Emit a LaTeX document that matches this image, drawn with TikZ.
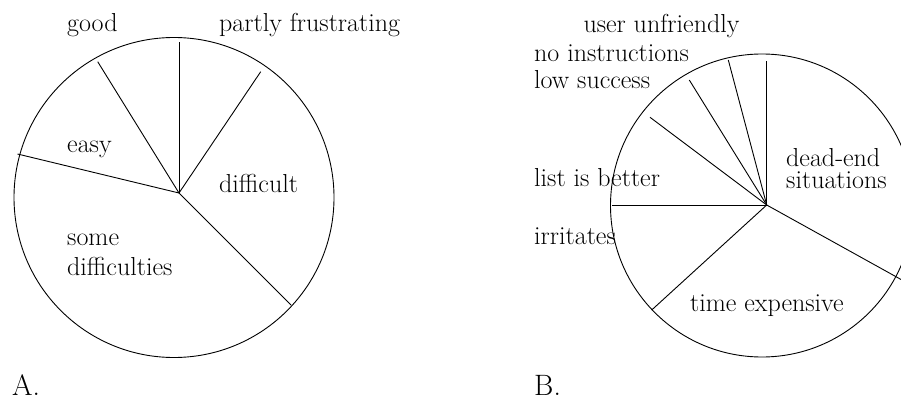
\documentclass[tikz,border=0pt]{standalone}
\begin{document}
\begin{tikzpicture}[x=1pt,y=-1pt,
  lbl/.style={anchor=base west,inner sep=0pt,font=\fontsize{26}{30}\selectfont},
  big/.style={anchor=base west,inner sep=0pt,font=\fontsize{29.5}{34}\selectfont},
  rim/.style={line width=0.9pt},
  spoke/.style={line width=0.9pt}]
\useasboundingbox (0,0) rectangle (901,398);
\clip (0,0) rectangle (901,398);

% ---- chart A ----
\draw[rim] (174,197.5) circle[radius=160];
\coordinate (ca) at (179,193);
\coordinate (a1) at (179,42);
\coordinate (a2) at (97.7,61.7);
\coordinate (a3) at (17.5,154);
\coordinate (a4) at (260.7,71.7);
\coordinate (a5) at (291,305);
\foreach \p in {a1,a2,a3,a4,a5} \draw[spoke] (ca) -- (\p);

\node[lbl] (good) at (67,32) {good};
\node[lbl] (partly) at (219,32) {partly frustrating};
\node[lbl] (easy) at (67,153) {easy};
\node[lbl] (difficult) at (219,193) {difficult};
\node[lbl] (some) at (67,245) {some};
\node[lbl] (diffs) at (67,275) {difficulties};
\node[big] (labA) at (12,395.5) {A.};

% ---- chart B ----
\draw[rim] (762,205.5) circle[radius=151.5];
\coordinate (cb) at (766.7,205);
\coordinate (b1) at (766.7,61);
\coordinate (b2) at (728.3,60);
\coordinate (b3) at (689.3,80);
\coordinate (b4) at (650,117.3);
\coordinate (b5) at (611.7,205);
\coordinate (b6) at (651.7,310);
\coordinate (b7) at (920,290);
\foreach \p in {b1,b2,b3,b4,b5,b6,b7} \draw[spoke] (cb) -- (\p);

\node[lbl] (user) at (583.3,33) {user unfriendly};
\node[lbl] (noinstr) at (534,61.5) {no instructions};
\node[lbl] (lowsucc) at (534,89) {low success};
\node[lbl] (list) at (534,186.5) {list is better};
\node[lbl] (dead) at (786,167) {dead-end};
\node[lbl] (sit) at (786,188.5) {situations};
\node[lbl] (irr) at (534,244) {irritates};
\node[lbl] (time) at (690,311.5) {time expensive};
\node[big] (labB) at (534,395.5) {B.};
\end{tikzpicture}
\end{document}
